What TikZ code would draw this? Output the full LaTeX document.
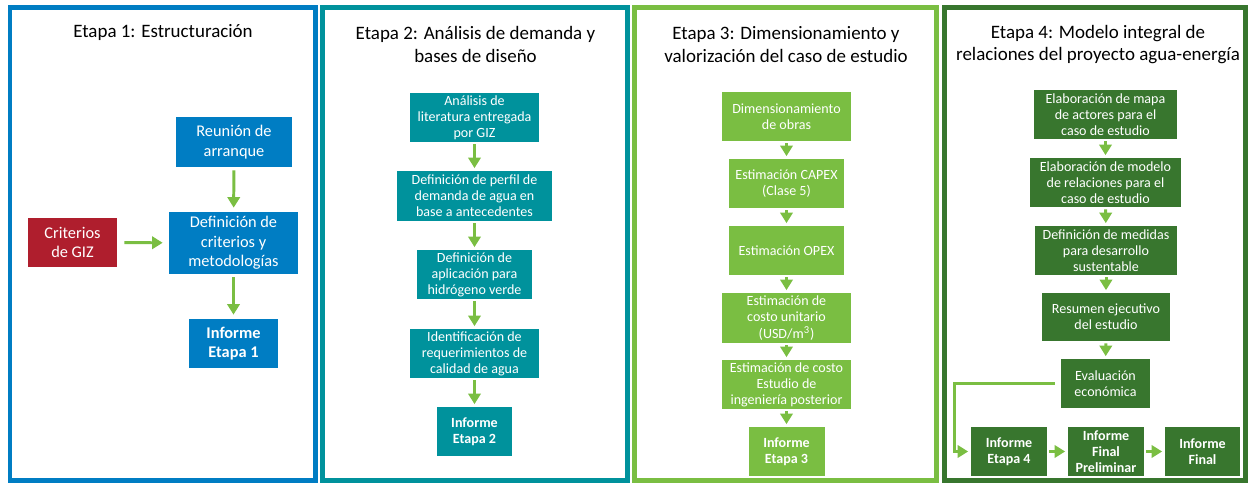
\documentclass[tikz,border=0pt]{standalone}
\usepackage{fontspec}
\setmainfont{Carlito}
\usepackage{tikz}
\usetikzlibrary{calc}
\usetikzlibrary{arrows.meta}

\definecolor{azulE}{RGB}{0,125,195}
\definecolor{tealE}{RGB}{0,146,156}
\definecolor{verdeC}{RGB}{122,190,66}
\definecolor{verdeO}{RGB}{56,118,46}
\definecolor{rojoE}{RGB}{175,30,45}

\begin{document}
\begin{tikzpicture}[x=0.02cm,y=-0.02cm,
    marco/.style={draw=#1,line width=0.1cm},
    titulo/.style={align=center,inner sep=0pt,font=\fontsize{10.8}{13}\selectfont},
    caja/.style={fill=#1,text=white,align=center,inner sep=0pt,minimum height=0.98cm,font=\fontsize{8}{9.2}\selectfont},
    cajagr/.style={caja=#1,font=\fontsize{9.3}{11}\selectfont},
    flecha/.style={draw=verdeC,line width=1.7pt,-{Triangle[length=6pt,width=7pt]},shorten <=0.04cm,shorten >=0.05cm}]
      \useasboundingbox (0,0) rectangle (1248,483);

      \draw[marco=azulE] (10,7.5) rectangle (315.5,480.5);
      \draw[marco=tealE] (322.5,7.5) rectangle (627,480.5);
      \draw[marco=verdeC] (634,7.5) rectangle (936.5,480.5);
      \draw[marco=verdeO] (944,7.5) rectangle (1245.5,480.5);

      \node[titulo] (t1) at (163,33) {Etapa 1: Estructuración};
      \node[titulo] (t2) at (475.5,44.5) {Etapa 2: Análisis de demanda y\\bases de diseño};
      \node[titulo] (t3) at (786,44.5) {Etapa 3: Dimensionamiento y\\valorización del caso de estudio};
      \node[titulo] (t4) at (1098,44.5) {Etapa 4: Modelo integral de\\relaciones del proyecto agua-energía};

      % etapa 1
      \node[cajagr=azulE,minimum width=2.32cm,minimum height=1cm] (reunion) at (234,142) {Reunión de\\arranque};
      \node[cajagr=rojoE,minimum width=1.78cm] (giz) at (72.5,242.5) {Criterios\\de GIZ};
      \node[cajagr=azulE,minimum width=2.58cm,minimum height=1.24cm] (defcrit) at (233.5,243) {Definición de\\criterios y\\metodologías};
      \node[cajagr=azulE,minimum width=1.78cm,font=\fontsize{9.3}{11}\selectfont\bfseries] (inf1) at (233.5,343.5) {Informe\\Etapa 1};

      \draw[flecha,shorten <=0.06cm,shorten >=0.08cm] (reunion) -- (defcrit);
      \draw[flecha,shorten <=0.14cm,shorten >=0.12cm] (giz) -- (defcrit);
      \draw[flecha,shorten <=0.06cm,shorten >=0.08cm] (defcrit) -- (inf1);

      % etapa 2
      \node[caja=tealE,minimum width=2.58cm] (literatura) at (474.5,117.5) {Análisis de\\literatura entregada\\por GIZ};
      \node[caja=tealE,minimum width=3.1cm,minimum height=1cm] (perfil) at (474.5,196) {Definición de perfil de\\demanda de agua en\\base a antecedentes};
      \node[caja=tealE,minimum width=2.3cm] (hidrogeno) at (474.5,274.5) {Definición de\\aplicación para\\hidrógeno verde};
      \node[caja=tealE,minimum width=2.58cm] (calidad) at (474.5,353.5) {Identificación de\\requerimientos de\\calidad de agua};
      \node[caja=tealE,minimum width=1.52cm,font=\fontsize{8}{9.2}\selectfont\bfseries] (inf2) at (474.5,431.5) {Informe\\Etapa 2};

      \draw[flecha] (literatura) -- (perfil);
      \draw[flecha] (perfil) -- (hidrogeno);
      \draw[flecha] (hidrogeno) -- (calidad);
      \draw[flecha] (calidad) -- (inf2);

      % etapa 3
      \node[caja=verdeC,minimum width=2.58cm] (obras) at (786.5,116.5) {Dimensionamiento\\de obras};
      \node[caja=verdeC,minimum width=2.3cm] (capex) at (786.5,183.5) {Estimación CAPEX\\(Clase 5)};
      \node[caja=verdeC,minimum width=2.3cm] (opex) at (786.5,250.5) {Estimación OPEX};
      \node[caja=verdeC,minimum width=2.58cm,minimum height=1cm] (unitario) at (786.5,318) {Estimación de\\costo unitario\\(USD/m\textsuperscript{3})};
      \node[caja=verdeC,minimum width=2.58cm] (ingenieria) at (786.5,384.5) {Estimación de costo\\Estudio de\\ingeniería posterior};
      \node[caja=verdeC,minimum width=1.52cm,font=\fontsize{8}{9.2}\selectfont\bfseries] (inf3) at (786.5,451.5) {Informe\\Etapa 3};

      \draw[flecha] (obras) -- (capex);
      \draw[flecha] (capex) -- (opex);
      \draw[flecha] (opex) -- (unitario);
      \draw[flecha] (unitario) -- (ingenieria);
      \draw[flecha] (ingenieria) -- (inf3);

      % etapa 4
      \node[caja=verdeO,minimum width=2.86cm] (actores) at (1105.5,114.5) {Elaboración de mapa\\de actores para el\\caso de estudio};
      \node[caja=verdeO,minimum width=3.02cm] (modelo) at (1105.5,182.5) {Elaboración de modelo\\de relaciones para el\\caso de estudio};
      \node[caja=verdeO,minimum width=2.84cm] (medidas) at (1106,250.5) {Definición de medidas\\para desarrollo\\sustentable};
      \node[caja=verdeO,minimum width=2.56cm,minimum height=0.96cm] (resumen) at (1106,317) {Resumen ejecutivo\\del estudio};
      \node[caja=verdeO,minimum width=1.78cm] (economica) at (1105.5,383.5) {Evaluación\\económica};
      \node[caja=verdeO,minimum width=1.52cm,font=\fontsize{8}{9.2}\selectfont\bfseries] (inf4) at (1009,451.5) {Informe\\Etapa 4};
      \node[caja=verdeO,minimum width=1.52cm,font=\fontsize{8}{9.2}\selectfont\bfseries] (prelim) at (1106,451.5) {Informe\\Final\\Preliminar};
      \node[caja=verdeO,minimum width=1.5cm,font=\fontsize{8}{9.2}\selectfont\bfseries] (final) at (1202.5,451.5) {Informe\\Final};

      \draw[flecha] (actores) -- (modelo);
      \draw[flecha] (modelo) -- (medidas);
      \draw[flecha] (medidas) -- (resumen);
      \draw[flecha] (resumen) -- (economica);
      \draw[flecha,shorten <=0.12cm] (economica.west) -- ++(-106,0) |- (inf4.west);
      \draw[flecha] (inf4) -- (prelim);
      \draw[flecha] (prelim) -- (final);
    \end{tikzpicture}
\end{document}
